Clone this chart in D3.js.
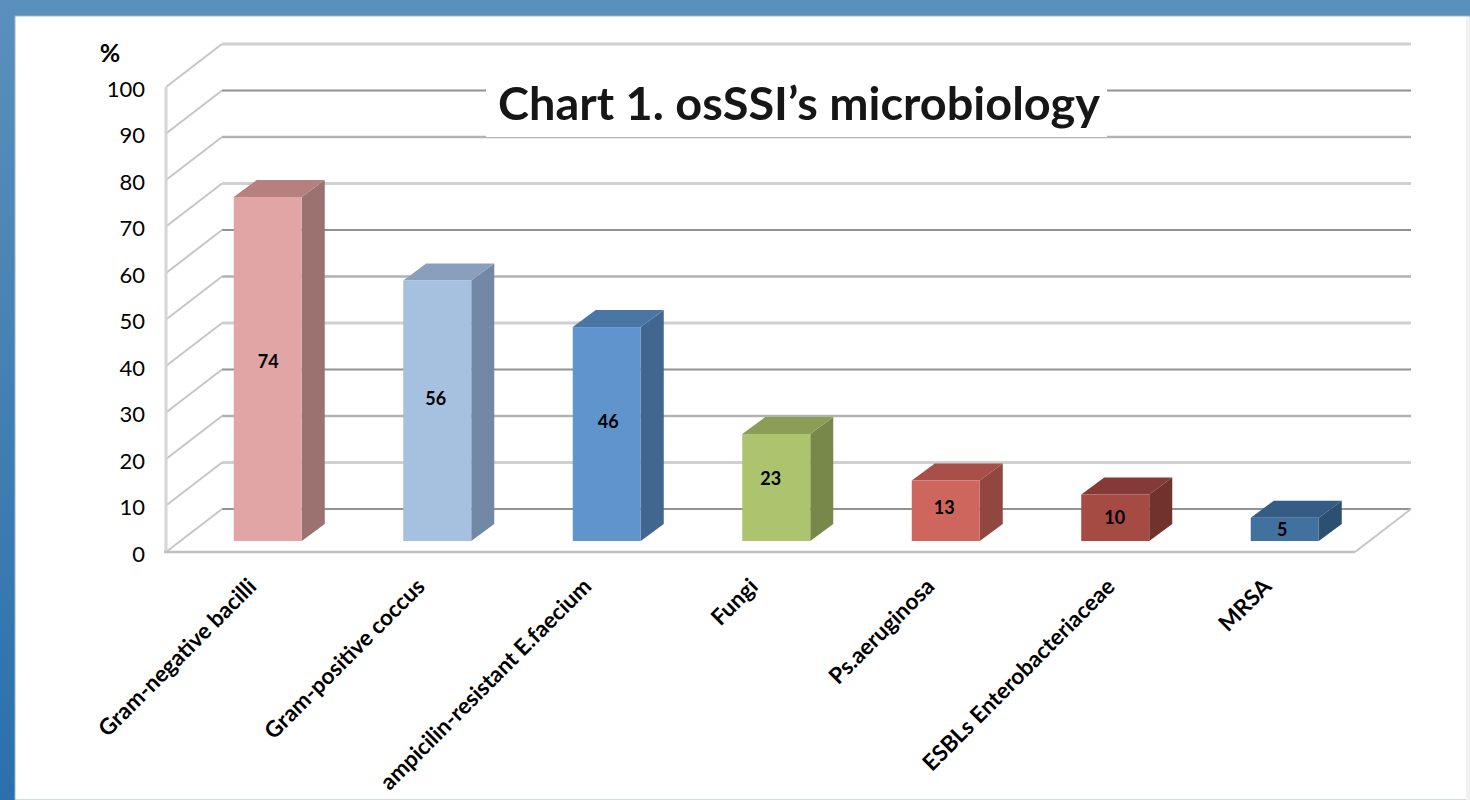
<!DOCTYPE html>
<html>
<head>
<meta charset="utf-8">
<style>
  html, body { margin: 0; padding: 0; background: #fff; overflow: hidden; }
  text { font-family: Lato, "Open Sans", sans-serif; fill: #000; }
</style>
<script src="https://cdn.jsdelivr.net/npm/d3@7"></script>
</head>
<body>
<div id="canvas"></div>
<script>
"use strict";

/* -------------------- Data -------------------- */

let categories = ["Gram-negative bacilli", "Gram-positive coccus", "ampicilin-resistant E.faecium",
    "Fungi", "Ps.aeruginosa", "ESBLs Enterobacteriaceae", "MRSA"];
let values = [74, 56, 46, 23, 13, 10, 5];
let yTicks = [0, 10, 20, 30, 40, 50, 60, 70, 80, 90, 100];
let frontColors = ["#e0a5a4", "#a6c0e0", "#5f94cc", "#abc46d", "#cf665d", "#a64a44", "#41719f"];
let topColors = ["#b5807e", "#8a9fbb", "#4a76a6", "#8a9f55", "#a94f49", "#843a36", "#355c85"];
let sideColors = ["#9c7270", "#7388a5", "#41668f", "#77884a", "#8f4740", "#71322e", "#2d4f70"];

/* -------------------- Configuration -------------------- */

let svgWidth = 1470;
let svgHeight = 800;
let wallDx = 56;      // depth of the chart box
let wallDy = -43;
let barDx = 23;       // depth of one bar
let barDy = -17;
let barFloor = 11;    // bars stand this far behind the front edge
let barWidth = 68;

/* the gridlines come out of the scaled screenshot in a repeating light/dark/mid pattern */
let gridStroke = ["#d0d0d0", "#929292", "#b2b2b2"];
let gridWidth = [3, 2, 2.5];

/* the labels do not sit on one rule in the original, small shifts per bar */
let labelNudgeX = [0, -2, 1, -6, -2, -1, -3];
let labelNudgeY = [8, 0, -2, -3, 1, 4, 3];
let catNudgeX = [-1, -2, -5, -8, -1, 10, -3];

let svg = d3.select("#canvas")
    .append("svg")
    .attr("width", svgWidth)
    .attr("height", svgHeight)
    .style("display", "block");

/* -------------------- Slide background -------------------- */

let defs = svg.append("defs");
let grad = defs.append("linearGradient")
    .attr("id", "slide")
    .attr("x1", 0).attr("y1", 0).attr("x2", 0).attr("y2", 1);
grad.append("stop").attr("offset", "0%").attr("stop-color", "#5a90bb");
grad.append("stop").attr("offset", "100%").attr("stop-color", "#2a70ac");

defs.append("filter")
    .attr("id", "soft")
    .append("feGaussianBlur")
    .attr("stdDeviation", 0.6);

svg.append("rect")
    .attr("width", svgWidth)
    .attr("height", svgHeight)
    .attr("fill", "url(#slide)");

svg.append("rect")
    .attr("x", 15)
    .attr("y", 16)
    .attr("width", svgWidth - 15)
    .attr("height", svgHeight - 16)
    .attr("fill", "#fff")
    .attr("stroke", "#9fb4c4")
    .attr("stroke-width", 1);

svg.append("rect")
    .attr("x", svgWidth - 4)
    .attr("y", 17)
    .attr("width", 4)
    .attr("height", svgHeight - 17)
    .attr("fill", "#f1f1f1");

/* -------------------- Scales -------------------- */

let yScale = d3.scaleLinear()
    .domain([0, 100])
    .range([552, 87]);

let xScale = d3.scaleBand()
    .domain(categories)
    .range([183, 1369.5]);

let xLeft = 166;
let xRight = 1355;

/* -------------------- Chart box -------------------- */

let grid = svg.append("g").attr("fill", "none");

/* Back wall lines and the slanted lines on the side wall */
yTicks.forEach(function (t) {
    let k = (100 - t) / 10 % 3;
    grid.append("line")
        .attr("x1", xLeft + wallDx)
        .attr("x2", xRight + wallDx)
        .attr("y1", yScale(t) + wallDy)
        .attr("y2", yScale(t) + wallDy)
        .attr("stroke", gridStroke[k])
        .attr("stroke-width", gridWidth[k]);
    grid.append("line")
        .attr("x1", xLeft)
        .attr("x2", xLeft + wallDx)
        .attr("y1", yScale(t))
        .attr("y2", yScale(t) + wallDy)
        .attr("stroke", "#c6c6c6")
        .attr("stroke-width", 2);
});

/* Side wall front edge */
grid.append("line")
    .attr("x1", xLeft)
    .attr("x2", xLeft)
    .attr("y1", yScale(100))
    .attr("y2", yScale(0))
    .attr("stroke", "#d6d6d6")
    .attr("stroke-width", 3);

/* Floor edges */
grid.append("line")
    .attr("x1", xLeft - 2)
    .attr("x2", xRight)
    .attr("y1", yScale(0))
    .attr("y2", yScale(0))
    .attr("stroke", "#c0c0c0")
    .attr("stroke-width", 2.5);

grid.append("line")
    .attr("x1", xRight)
    .attr("x2", xRight + wallDx)
    .attr("y1", yScale(0))
    .attr("y2", yScale(0) + wallDy)
    .attr("stroke", "#c6c6c6")
    .attr("stroke-width", 2);

/* -------------------- Y axis labels -------------------- */

let yAxis = d3.axisLeft(yScale)
    .tickValues(yTicks)
    .tickSize(0)
    .tickPadding(0);

svg.append("g")
    .attr("transform", "translate(145,2)")
    .call(yAxis)
    .call(function (g) { g.select(".domain").remove(); })
    .selectAll("text")
    .style("font-size", "22px");

svg.append("text")
    .attr("x", 110)
    .attr("y", 62)
    .attr("text-anchor", "middle")
    .style("font-size", "25px")
    .style("font-weight", "bold")
    .text("%");

/* -------------------- Bars -------------------- */

function barLeft(i) {
    return xScale(categories[i]) + xScale.bandwidth() / 2 - barWidth / 2;
}

function barY(v) {
    return yScale(v) - barFloor;
}

let bars = svg.selectAll("g.bar")
    .data(values)
    .join("g")
    .attr("class", "bar");

bars.append("path")
    .attr("fill", function (d, i) { return sideColors[i]; })
    .attr("d", function (d, i) {
        let x = barLeft(i) + barWidth;
        return d3.line()([[x, barY(d)], [x + barDx, barY(d) + barDy],
            [x + barDx, barY(0) + barDy], [x, barY(0)]]) + "Z";
    });

bars.append("path")
    .attr("fill", function (d, i) { return topColors[i]; })
    .attr("d", function (d, i) {
        let x = barLeft(i);
        return d3.line()([[x, barY(d)], [x + barDx, barY(d) + barDy],
            [x + barWidth + barDx, barY(d) + barDy], [x + barWidth, barY(d)]]) + "Z";
    });

bars.append("rect")
    .attr("x", function (d, i) { return barLeft(i); })
    .attr("y", function (d) { return barY(d); })
    .attr("width", barWidth)
    .attr("height", function (d) { return barY(0) - barY(d); })
    .attr("fill", function (d, i) { return frontColors[i]; });

bars.append("text")
    .attr("x", function (d, i) { return barLeft(i) + barWidth / 2 + 0.5 + labelNudgeX[i]; })
    .attr("y", function (d, i) { return barY(d * 0.54) + labelNudgeY[i]; })
    .attr("text-anchor", "middle")
    .attr("dominant-baseline", "middle")
    .style("font-size", "18px")
    .style("font-weight", "bold")
    .text(function (d) { return d; });

/* -------------------- Category labels -------------------- */

svg.selectAll("text.cat")
    .data(categories)
    .join("text")
    .attr("class", "cat")
    .attr("text-anchor", "end")
    .attr("transform", function (d, i) {
        let x = xScale(d) + xScale.bandwidth() / 2 - 9 + catNudgeX[i];
        return "translate(" + x + ",588) rotate(-45)";
    })
    .style("font-size", "22.5px")
    .style("font-weight", "bold")
    .text(function (d) { return d; });

/* -------------------- Title -------------------- */

svg.append("rect")
    .attr("x", 486)
    .attr("y", 68)
    .attr("width", 621)
    .attr("height", 69)
    .attr("fill", "#fff");

svg.append("text")
    .attr("x", 498)
    .attr("y", 120)
    .attr("textLength", 602)
    .attr("lengthAdjust", "spacingAndGlyphs")
    .attr("filter", "url(#soft)")
    .style("font-size", "46px")
    .style("font-weight", "bold")
    .style("fill", "#141414")
    .text("Chart 1. osSSI\u2019s microbiology");
</script>
</body>
</html>
